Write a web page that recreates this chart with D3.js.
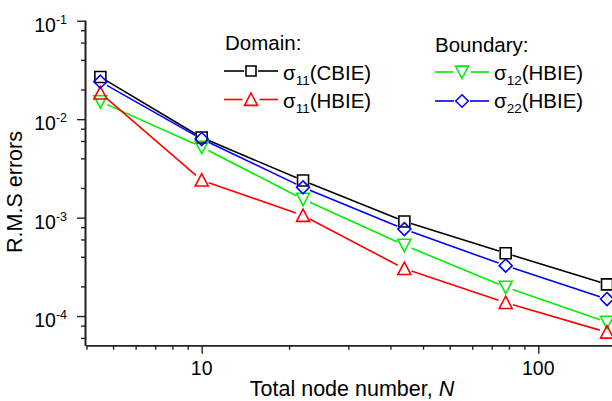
<!DOCTYPE html>
<html>
<head>
<meta charset="utf-8">
<script src="https://cdn.jsdelivr.net/npm/d3@7/dist/d3.min.js"></script>
<style>
  html, body { margin: 0; padding: 0; background: #fff; }
  svg { display: block; }
  text { font-family: "Liberation Sans", Arial, sans-serif; fill: #000; }
</style>
</head>
<body>
<div id="chart"></div>
<script>
// ---- data ----
const nodes = [5, 10, 20, 40, 80, 160];
const sigma11CBIE = [0.0268, 0.0065, 0.00238, 0.000914, 0.000435, 0.00021];
const sigma11HBIE = [0.0184, 0.0024, 0.00105, 0.000303, 0.000137, 0.0000685];
const sigma12HBIE = [0.0151, 0.0052, 0.00154, 0.000525, 0.000197, 0.0000867];
const sigma22HBIE = [0.024, 0.00628, 0.00203, 0.000764, 0.000325, 0.000149];

const yMajorTicks = [1e-4, 1e-3, 1e-2, 1e-1];
const yMajorExp = ["-4", "-3", "-2", "-1"];
const yMinorTicks = [6e-5, 8e-5, 2e-4, 4e-4, 6e-4, 8e-4, 2e-3, 4e-3, 6e-3, 8e-3, 2e-2, 4e-2, 6e-2, 8e-2];
const xMajorTicks = [10, 100];
const xMajorLabels = ["10", "100"];
const xMinorTicks = [4.545, 5.455, 6.364, 7.273, 8.182, 9.091, 18.18, 27.27, 36.36, 45.45, 54.55, 63.64, 72.73, 81.82, 90.91];

const W = 612, H = 401;
const svg = d3.select("#chart").append("svg").attr("width", W).attr("height", H);

// scales
const xDecade = 336.6, x10 = 201.7;
const xDom = [4.545, 200];
const x = d3.scaleLog().domain(xDom)
  .range(xDom.map(v => x10 + (Math.log10(v) - 1) * xDecade));
const y = d3.scaleLog().domain([5e-5, 0.1]).range([345.7, 20.7]);

const FONT = 19.5;
const TITLE_FONT = 21.5;
const LEG_FONT = 20.5;
const axisColor = "#222";

// y axis
const yAxisX = 85.5;
const gyMin = svg.append("g").attr("transform", `translate(${yAxisX},0)`)
  .call(d3.axisLeft(y).tickValues(yMinorTicks).tickSize(4.5).tickFormat(""));
const gyMaj = svg.append("g").attr("transform", `translate(${yAxisX},0)`)
  .call(d3.axisLeft(y).tickValues(yMajorTicks).tickSize(8.5).tickFormat(""));
[gyMin, gyMaj].forEach(g => {
  g.select(".domain").attr("stroke", axisColor).attr("stroke-width", 1.6).attr("d", `M0,${y.range()[1]}V${y.range()[0]}`);
  g.selectAll(".tick line").attr("stroke", axisColor).attr("stroke-width", 1.4);
});

// y tick labels: 10^n
yMajorTicks.forEach((v, i) => {
  const t = svg.append("text").attr("x", 67).attr("y", y(v) + 11)
    .attr("text-anchor", "end").style("font-size", FONT + "px");
  t.append("tspan").text("10");
  t.append("tspan").attr("dy", -8).style("font-size", "12.5px").text(yMajorExp[i]);
});

// x axis
const xAxisY = 345.7;
const gxMin = svg.append("g").attr("transform", `translate(0,${xAxisY})`)
  .call(d3.axisBottom(x).tickValues(xMinorTicks).tickSize(4).tickFormat(""));
const gxMaj = svg.append("g").attr("transform", `translate(0,${xAxisY})`)
  .call(d3.axisBottom(x).tickValues(xMajorTicks).tickSize(8).tickFormat(""));
[gxMin, gxMaj].forEach(g => {
  g.select(".domain").attr("stroke", axisColor).attr("stroke-width", 1.6).attr("d", `M${x.range()[0]},0H${x.range()[1]}`);
  g.selectAll(".tick line").attr("stroke", axisColor).attr("stroke-width", 1.4);
});
xMajorTicks.forEach((v, i) => {
  svg.append("text").attr("x", x(v)).attr("y", xAxisY + 29.5)
    .attr("text-anchor", "middle").style("font-size", FONT + "px").text(xMajorLabels[i]);
});

// axis titles
const xt = svg.append("text").attr("x", 352).attr("y", 395.5)
  .attr("text-anchor", "middle").style("font-size", TITLE_FONT + "px");
xt.append("tspan").text("Total node number, ");
xt.append("tspan").style("font-style", "italic").text("N");

svg.append("text").attr("transform", "translate(22,192) rotate(-90)")
  .attr("text-anchor", "middle").style("font-size", TITLE_FONT + "px").text("R.M.S errors");

// marker paths
function markerPath(type, s) {
  const h = s / 2;
  if (type === "square") return `M${-h},${-h}H${h}V${h}H${-h}Z`;
  if (type === "diamond") { const d = s * 0.52; return `M0,${-d}L${d},0L0,${d}L${-d},0Z`; }
  if (type === "up") return `M0,${-h}L${h},${h * 0.9}L${-h},${h * 0.9}Z`;
  if (type === "down") return `M0,${h}L${h},${-h * 0.9}L${-h},${-h * 0.9}Z`;
}

const series = [
  { vals: sigma11CBIE, color: "#000000", marker: "square", size: 11, gap: 7 },
  { vals: sigma12HBIE, color: "#00ee00", marker: "down", size: 13, gap: 7.5 },
  { vals: sigma11HBIE, color: "#ff0000", marker: "up", size: 13, gap: 7.5 },
  { vals: sigma22HBIE, color: "#0000ff", marker: "diamond", size: 12.5, gap: 7.5 },
];

series.forEach(s => {
  const pts = nodes.map((n, i) => [x(n), y(s.vals[i])]);
  const g = svg.append("g");
  for (let i = 0; i < pts.length - 1; i++) {
    const [x1, y1] = pts[i], [x2, y2] = pts[i + 1];
    const dx = x2 - x1, dy = y2 - y1, L = Math.hypot(dx, dy);
    const ux = dx / L, uy = dy / L;
    g.append("line")
      .attr("x1", x1 + ux * s.gap).attr("y1", y1 + uy * s.gap)
      .attr("x2", x2 - ux * s.gap).attr("y2", y2 - uy * s.gap)
      .attr("stroke", s.color).attr("stroke-width", 1.6);
  }
  g.selectAll("path.m").data(pts).enter().append("path")
    .attr("transform", d => `translate(${d[0]},${d[1]})`)
    .attr("d", markerPath(s.marker, s.size))
    .attr("fill", "none").attr("stroke", s.color).attr("stroke-width", 1.6);
});

// legend
svg.append("text").attr("x", 225).attr("y", 50).style("font-size", LEG_FONT + "px").text("Domain:");
svg.append("text").attr("x", 435).attr("y", 52).style("font-size", LEG_FONT + "px").text("Boundary:");

const legendItems = [
  { x0: 224, x1: 278, ly: 71, ty: 80, color: "#000000", marker: "square", size: 10, sub: "11", label: "(CBIE)" },
  { x0: 224, x1: 278, ly: 99.5, ty: 108, color: "#ff0000", marker: "up", size: 13, sub: "11", label: "(HBIE)" },
  { x0: 435, x1: 489, ly: 72, ty: 80, color: "#00ee00", marker: "down", size: 13, sub: "12", label: "(HBIE)" },
  { x0: 435, x1: 489, ly: 101, ty: 108, color: "#0000ff", marker: "diamond", size: 12, sub: "22", label: "(HBIE)" },
];
legendItems.forEach(it => {
  const mx = (it.x0 + it.x1) / 2;
  const gap = it.size / 2 + 2;
  svg.append("line").attr("x1", it.x0).attr("x2", mx - gap).attr("y1", it.ly).attr("y2", it.ly)
    .attr("stroke", it.color).attr("stroke-width", 1.6);
  svg.append("line").attr("x1", mx + gap).attr("x2", it.x1).attr("y1", it.ly).attr("y2", it.ly)
    .attr("stroke", it.color).attr("stroke-width", 1.6);
  svg.append("path").attr("transform", `translate(${mx},${it.ly})`)
    .attr("d", markerPath(it.marker, it.size))
    .attr("fill", "none").attr("stroke", it.color).attr("stroke-width", 1.6);
  const t = svg.append("text").attr("x", it.x1 + 5).attr("y", it.ty).style("font-size", LEG_FONT + "px");
  t.append("tspan").text("σ");
  t.append("tspan").attr("dy", 5).style("font-size", "13.5px").text(it.sub);
  t.append("tspan").attr("dy", -5).text(it.label);
});
</script>
</body>
</html>
